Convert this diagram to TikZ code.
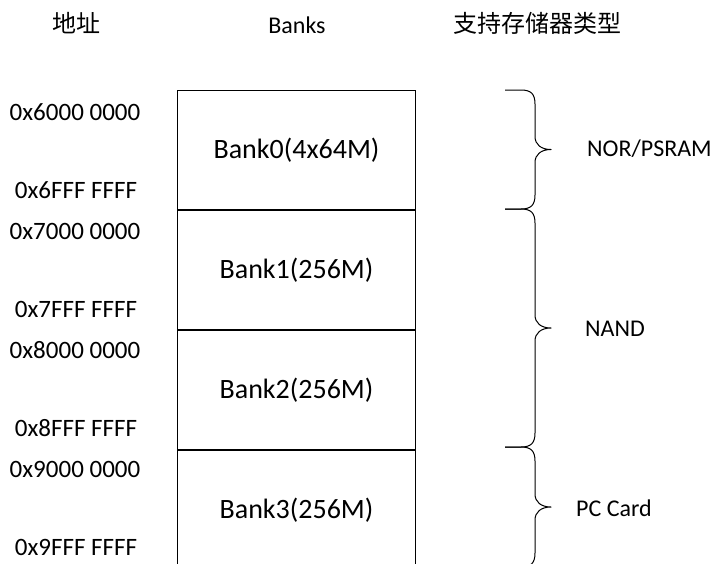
\documentclass[tikz,border=0pt]{standalone}
\usepackage{fontspec}
\setmainfont{Carlito}
\newfontfamily\cjk{Noto Sans CJK SC}
\newcommand\mybrace[3]{%
  \draw[bracepath] (505,#1) -- (521,#1) .. controls (531,#1) and (535,#1+4) .. (535,#1+14)
    -- (535,#2-13) .. controls (535,#2-5) and (541,#2) .. (551,#2)
    .. controls (541,#2) and (535,#2+5) .. (535,#2+13)
    -- (535,#3-14) .. controls (535,#3-4) and (531,#3) .. (521,#3) -- (505,#3);}
\begin{document}
\begin{tikzpicture}[x=1pt,y=-1pt,
  bankbox/.style={draw, line width=1pt, minimum width=238pt, minimum height=119pt,
    inner sep=0pt, font=\fontsize{28}{32}\selectfont, anchor=north west},
  addr/.style={font=\fontsize{25}{30}\selectfont, inner sep=0pt},
  kind/.style={font=\fontsize{24}{28}\selectfont, inner sep=0pt, anchor=west},
  hdr/.style={font=\fontsize{24}{28}\selectfont, inner sep=0pt},
  bracepath/.style={line width=1pt, line join=round}]
\clip (0,0) rectangle (717,563);
\fill[white] (0,0) rectangle (717,563);
% headers
\node[hdr] (haddr) at (76,23) {\cjk 地址};
\node[hdr] (hbank) at (297,25) {Banks};
\node[hdr] (htype) at (537,23) {\cjk 支持存储器类型};
% banks
\node[bankbox] (b0) at (177,90) {Bank0(4x64M)};
\node[bankbox] (b1) at (b0.south west) {Bank1(256M)};
\node[bankbox] (b2) at (b1.south west) {Bank2(256M)};
\node[bankbox] (b3) at (b2.south west) {Bank3(256M)};
% addresses
\node[addr] (a0s) at (75,112) {0x6000 0000};
\node[addr] (a0e) at (76,190) {0x6FFF FFFF};
\node[addr] (a1s) at (75,231) {0x7000 0000};
\node[addr] (a1e) at (76,309) {0x7FFF FFFF};
\node[addr] (a2s) at (75,350) {0x8000 0000};
\node[addr] (a2e) at (76,428) {0x8FFF FFFF};
\node[addr] (a3s) at (75,469) {0x9000 0000};
\node[addr] (a3e) at (76,547) {0x9FFF FFFF};
% braces
\mybrace{90}{149.5}{209}
\mybrace{209}{328}{447}
\mybrace{447}{507}{567}
% memory types
\node[kind] (k0) at (587,149) {NOR/PSRAM};
\node[kind] (k1) at (585,329) {NAND};
\node[kind] (k2) at (576,508) {PC Card};
\end{tikzpicture}
\end{document}
